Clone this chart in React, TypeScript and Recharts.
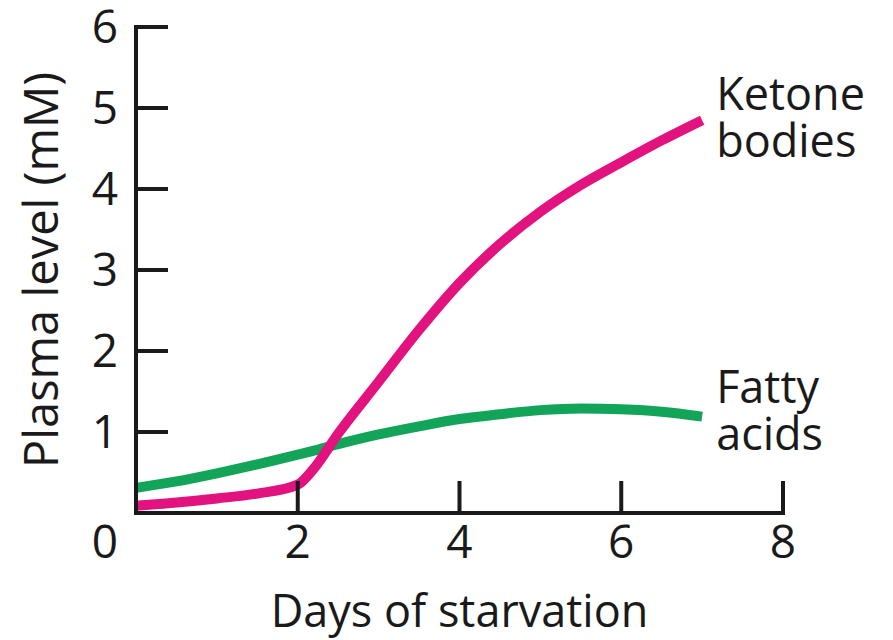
import { Line, LineChart, XAxis, YAxis } from "recharts"

const DAYS = [0, 0.5, 1, 1.5, 2, 2.2, 2.5, 3, 3.5, 4, 4.5, 5, 5.5, 6, 6.5, 7]
const KETONE_BODIES = [0.09, 0.13, 0.18, 0.24, 0.35, 0.55, 0.98, 1.62, 2.26, 2.84, 3.32, 3.72, 4.05, 4.33, 4.6, 4.85]
const FATTY_ACIDS = [0.31, 0.39, 0.49, 0.6, 0.72, 0.77, 0.85, 0.97, 1.07, 1.16, 1.22, 1.27, 1.29, 1.28, 1.25, 1.19]
const X_TICKS = [0, 2, 4, 6, 8]
const Y_TICKS = [1, 2, 3, 4, 5, 6]

const FONT = "'Open Sans', sans-serif"
const INK = "#1a1a1a"
const PINK = "#e2127e"
const GREEN = "#12a459"

const data = DAYS.map((d, i) => ({ day: d, ketone: KETONE_BODIES[i], fatty: FATTY_ACIDS[i] }))
const last = DAYS.length - 1

function XTick({ x, y, payload }: any) {
  // the shared "0" sits at the corner, left of the y axis
  const tx = payload.value === 0 ? x - 31 : x
  return (
    <text x={tx} y={y} dy="0.71em" textAnchor="middle" fill={INK} fontSize={46} fontFamily={FONT}>
      {payload.value}
    </text>
  )
}

function endLabel(lines: string[], dy: number) {
  return (props: any) => {
    if (props.index !== last) return null
    return (
      <g>
        {lines.map((t, i) => (
          <text key={t} x={props.x + 14} y={props.y + dy + i * 47} fill={INK} fontSize={45} fontFamily={FONT}>
            {t}
          </text>
        ))}
      </g>
    )
  }
}

export default function App() {
  const axisLine = { stroke: INK, strokeWidth: 4, strokeLinecap: "square" as const }
  const tickLine = { stroke: INK, strokeWidth: 4 }
  return (
    <div style={{ width: 893, height: 640, background: "#fff" }}>
      <style>{"body{margin:0}"}</style>
      <LineChart width={893} height={640} data={data} margin={{ top: 27, right: 110, left: 0, bottom: 0 }}>
        <XAxis
          dataKey="day"
          type="number"
          domain={[0, 8]}
          ticks={X_TICKS}
          height={127}
          axisLine={axisLine}
          tickLine={tickLine}
          tickSize={-32}
          tickMargin={44}
          tick={<XTick />}
          label={{ value: "Days of starvation", position: "insideBottom", offset: 13, fill: INK, fontSize: 45, fontFamily: FONT }}
        />
        <YAxis
          type="number"
          domain={[0, 6]}
          ticks={Y_TICKS}
          width={136}
          axisLine={axisLine}
          tickLine={tickLine}
          tickSize={-32}
          tickMargin={50}
          tick={{ fill: INK, fontSize: 46, fontFamily: FONT }}
          label={{
            value: "Plasma level (mM)",
            angle: -90,
            position: "insideLeft",
            offset: 41,
            fill: INK,
            fontSize: 47,
            fontFamily: FONT,
            style: { textAnchor: "middle" },
          }}
        />
        <Line
          dataKey="fatty"
          type="monotone"
          stroke={GREEN}
          strokeWidth={10}
          dot={false}
          isAnimationActive={false}
          label={endLabel(["Fatty", "acids"], -14)}
        />
        <Line
          dataKey="ketone"
          type="monotone"
          stroke={PINK}
          strokeWidth={10}
          dot={false}
          isAnimationActive={false}
          label={endLabel(["Ketone", "bodies"], -10)}
        />
      </LineChart>
    </div>
  )
}
